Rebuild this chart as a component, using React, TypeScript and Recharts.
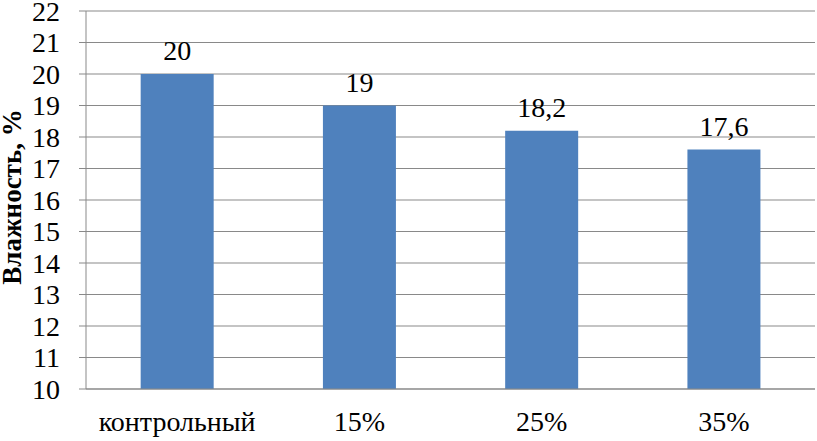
import { BarChart, Bar, XAxis, YAxis, CartesianGrid, LabelList } from 'recharts';

const categories = ['контрольный', '15%', '25%', '35%'];
const moisture = [20, 19, 18.2, 17.6];
const yTicks = [10, 11, 12, 13, 14, 15, 16, 17, 18, 19, 20, 21, 22];
const edgeTicks = [0, 1, 2, 3, 4];

const data = categories.map((name, i) => ({ name, value: moisture[i] }));

const FONT = "'Liberation Serif', 'Times New Roman', serif";
const GRID = '#898989';

// rotated axis title, baseline on the right like Excel does it
const YTitle = () => (
  <text
    x={21}
    y={197}
    transform="rotate(-90, 21, 197)"
    textAnchor="middle"
    fontFamily={FONT}
    fontSize={27}
    fontWeight="bold"
    fill="#000"
  >
    Влажность, %
  </text>
);

export default function App() {
  return (
    <div style={{ position: 'absolute', left: 0, top: 0 }}>
      <BarChart
        width={817}
        height={441}
        data={data}
        margin={{ top: 11, right: 2, bottom: 0, left: 0 }}
        barCategoryGap="30%"
      >
        <CartesianGrid vertical={false} stroke={GRID} xAxisId="cat" />
        {/* tick marks between categories */}
        <XAxis
          xAxisId="edge"
          type="number"
          domain={[0, 4]}
          ticks={edgeTicks}
          allowDataOverflow
          height={0}
          axisLine={false}
          tickLine={{ stroke: GRID }}
          tickSize={8}
          tickFormatter={() => ''}
        />
        <XAxis
          xAxisId="cat"
          dataKey="name"
          height={52}
          axisLine={{ stroke: GRID }}
          tickLine={false}
          tickSize={0}
          tickMargin={22}
          interval={0}
          tick={{ fill: '#000', fontFamily: FONT, fontSize: 28 }}
        />
        <YAxis
          width={86}
          domain={[10, 22]}
          ticks={yTicks}
          interval={0}
          axisLine={{ stroke: GRID }}
          tickLine={{ stroke: GRID }}
          tickSize={7}
          tickMargin={19}
          tick={{ fill: '#000', fontFamily: FONT, fontSize: 28 }}
          label={{ content: () => <YTitle /> }}
        />
        <Bar xAxisId="cat" dataKey="value" fill="#4F81BD" isAnimationActive={false}>
          <LabelList
            dataKey="value"
            position="top"
            offset={14}
            fill="#000"
            fontFamily={FONT}
            fontSize={28}
            formatter={(v: any) => String(v).replace('.', ',')}
          />
        </Bar>
      </BarChart>
    </div>
  );
}
